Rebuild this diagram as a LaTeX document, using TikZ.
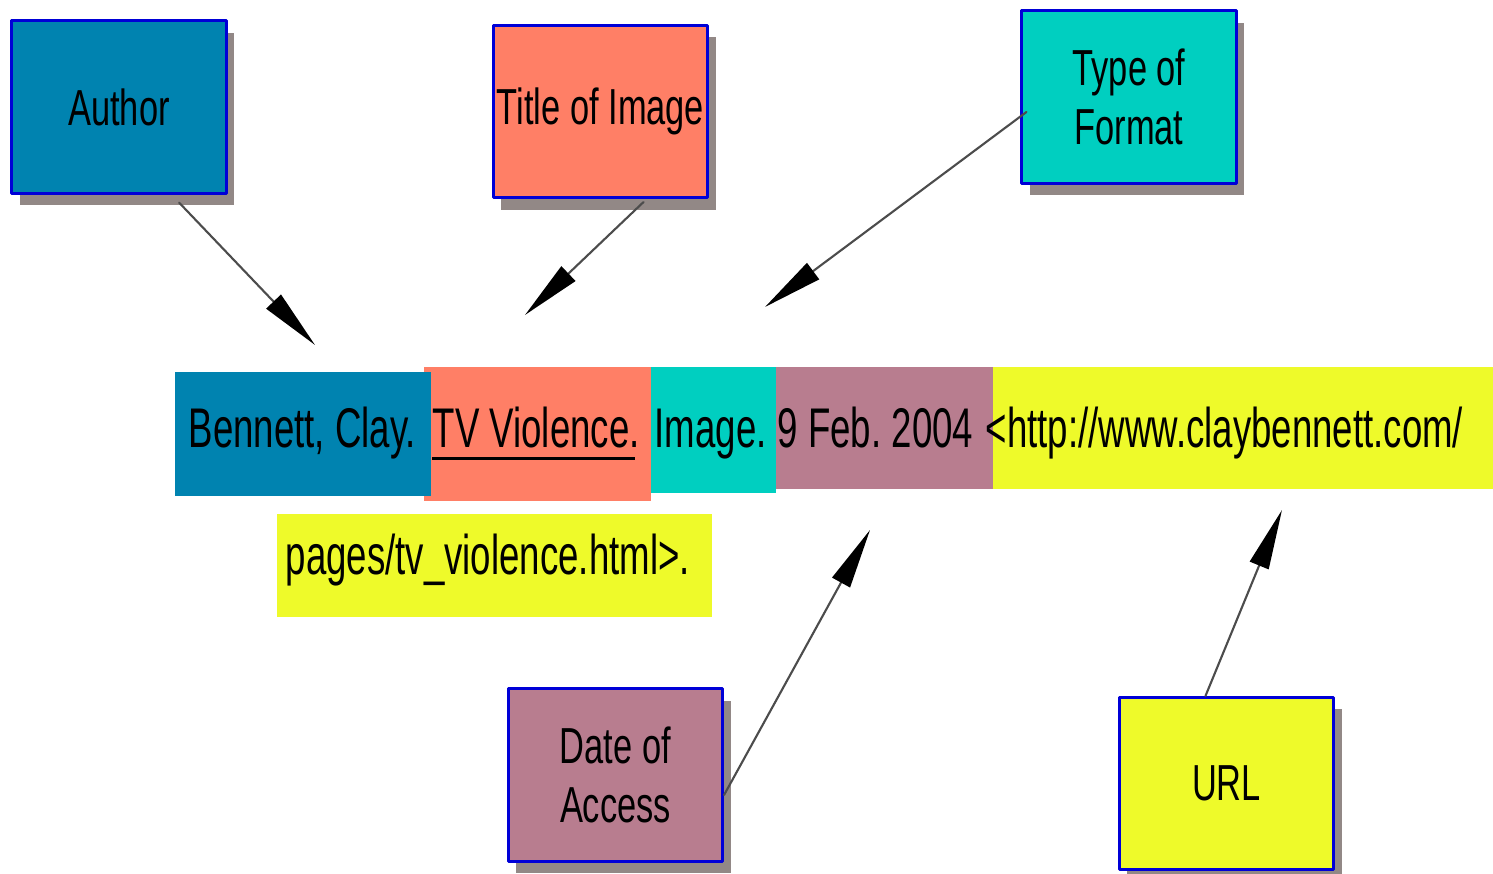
\documentclass[tikz,border=0pt]{standalone}
\usepackage{fontspec}
\setmainfont[FakeStretch=0.68]{Liberation Sans}
\newfontfamily\stripfont[FakeStretch=0.655]{Liberation Sans}
\usetikzlibrary{arrows.meta}
\usetikzlibrary{shadows}
\frenchspacing

\definecolor{authorblue}{RGB}{0,131,176}
\definecolor{salmon}{RGB}{255,127,102}
\definecolor{teal}{RGB}{0,207,192}
\definecolor{mauve}{RGB}{184,125,143}
\definecolor{lemon}{RGB}{238,250,42}
\definecolor{edgeblue}{RGB}{0,0,215}
\definecolor{shadowgray}{RGB}{146,136,134}

\begin{document}
\begin{tikzpicture}[
  x=0.01cm,
  y=-0.01cm,
  line cap=round,
  line join=round,
  labelbox/.style={
    draw=edgeblue,
    line width=0.85pt,
    inner xsep=1pt,
    minimum width=2.14cm,
    minimum height=1.72cm,
    align=center,
    font=\fontsize{14.4}{17}\selectfont,
    drop shadow={shadow xshift=0.08cm, shadow yshift=-0.12cm,
      fill=shadowgray, opacity=1}
  },
  seg/.style={inner sep=0pt, anchor=north west},
  segtext/.style={inner sep=0pt, anchor=base west,
    font=\stripfont\fontsize{15.9}{18}\selectfont},
  pointer/.style={-{Triangle[length=0.6cm,width=0.2cm,black]},
    draw=black!70, line width=0.6pt}
]
\useasboundingbox (0,0) rectangle (1493,874);

% label boxes
\node [labelbox, fill=authorblue] (author) at (119,107) {Author};
\node [labelbox, fill=salmon] (title) at (600.5,111.5) {Title of Image};
\node [labelbox, fill=teal] (format) at (1129,97) {Type of\\Format};
\node [labelbox, fill=mauve] (date) at (615.5,775) {Date of\\Access};
\node [labelbox, fill=lemon] (url) at (1226.5,783.5) {URL};

% citation strip: salmon under blue
\node [seg, fill=salmon, minimum width=2.27cm, minimum height=1.34cm] (stitle) at (423,366) {};
\node [seg, fill=authorblue, minimum width=2.56cm, minimum height=1.24cm] (sauthor) at (174,371) {};
\node [seg, fill=teal, minimum width=1.25cm, minimum height=1.26cm] (sformat) at (650,366) {};
\node [seg, fill=mauve, minimum width=2.17cm, minimum height=1.22cm] (sdate) at (775,366) {};
\node [seg, fill=lemon, minimum width=5.01cm, minimum height=1.22cm] (surl) at (992,366) {};
\node [seg, fill=lemon, minimum width=4.35cm, minimum height=1.03cm] (surlend) at (276,513) {};

\node [segtext] (tauthor) at (188,448) {Bennett, Clay.};
\node [segtext] (ttitle) at (432,448) {TV Violence.};
\node [segtext] (tformat) at (654,448) {Image.};
\node [segtext] (tdate) at (777,448) {9 Feb. 2004};
\node [segtext] (turl) at (985,448) {<http://www.claybennett.com/};
\node [segtext] (turlend) at (285,575) {pages/tv\_violence.html>.};
\draw [line width=0.85pt, line cap=butt]
  ([yshift=-3pt]ttitle.base west) -- ([xshift=-1.5pt,yshift=-3pt]ttitle.base east);

% arrow tips
\coordinate (authortip) at (315,345);
\coordinate (titletip) at (525,315);
\coordinate (formattip) at (765,307);
\coordinate (datetip) at (870,530);
\coordinate (urltip) at (1282,510);

\draw [pointer] ([xshift=0.6cm,yshift=-0.08cm]author.south) -- (authortip);
\draw [pointer] ([xshift=0.43cm,yshift=-0.03cm]title.south) -- (titletip);
\draw [pointer] ([xshift=0.06cm,yshift=-0.15cm]format.west) -- (formattip);
\draw [pointer] ([yshift=-0.2cm]date.east) -- (datetip);
\draw [pointer] ([xshift=-0.21cm]url.north) -- (urltip);

\end{tikzpicture}
\end{document}
